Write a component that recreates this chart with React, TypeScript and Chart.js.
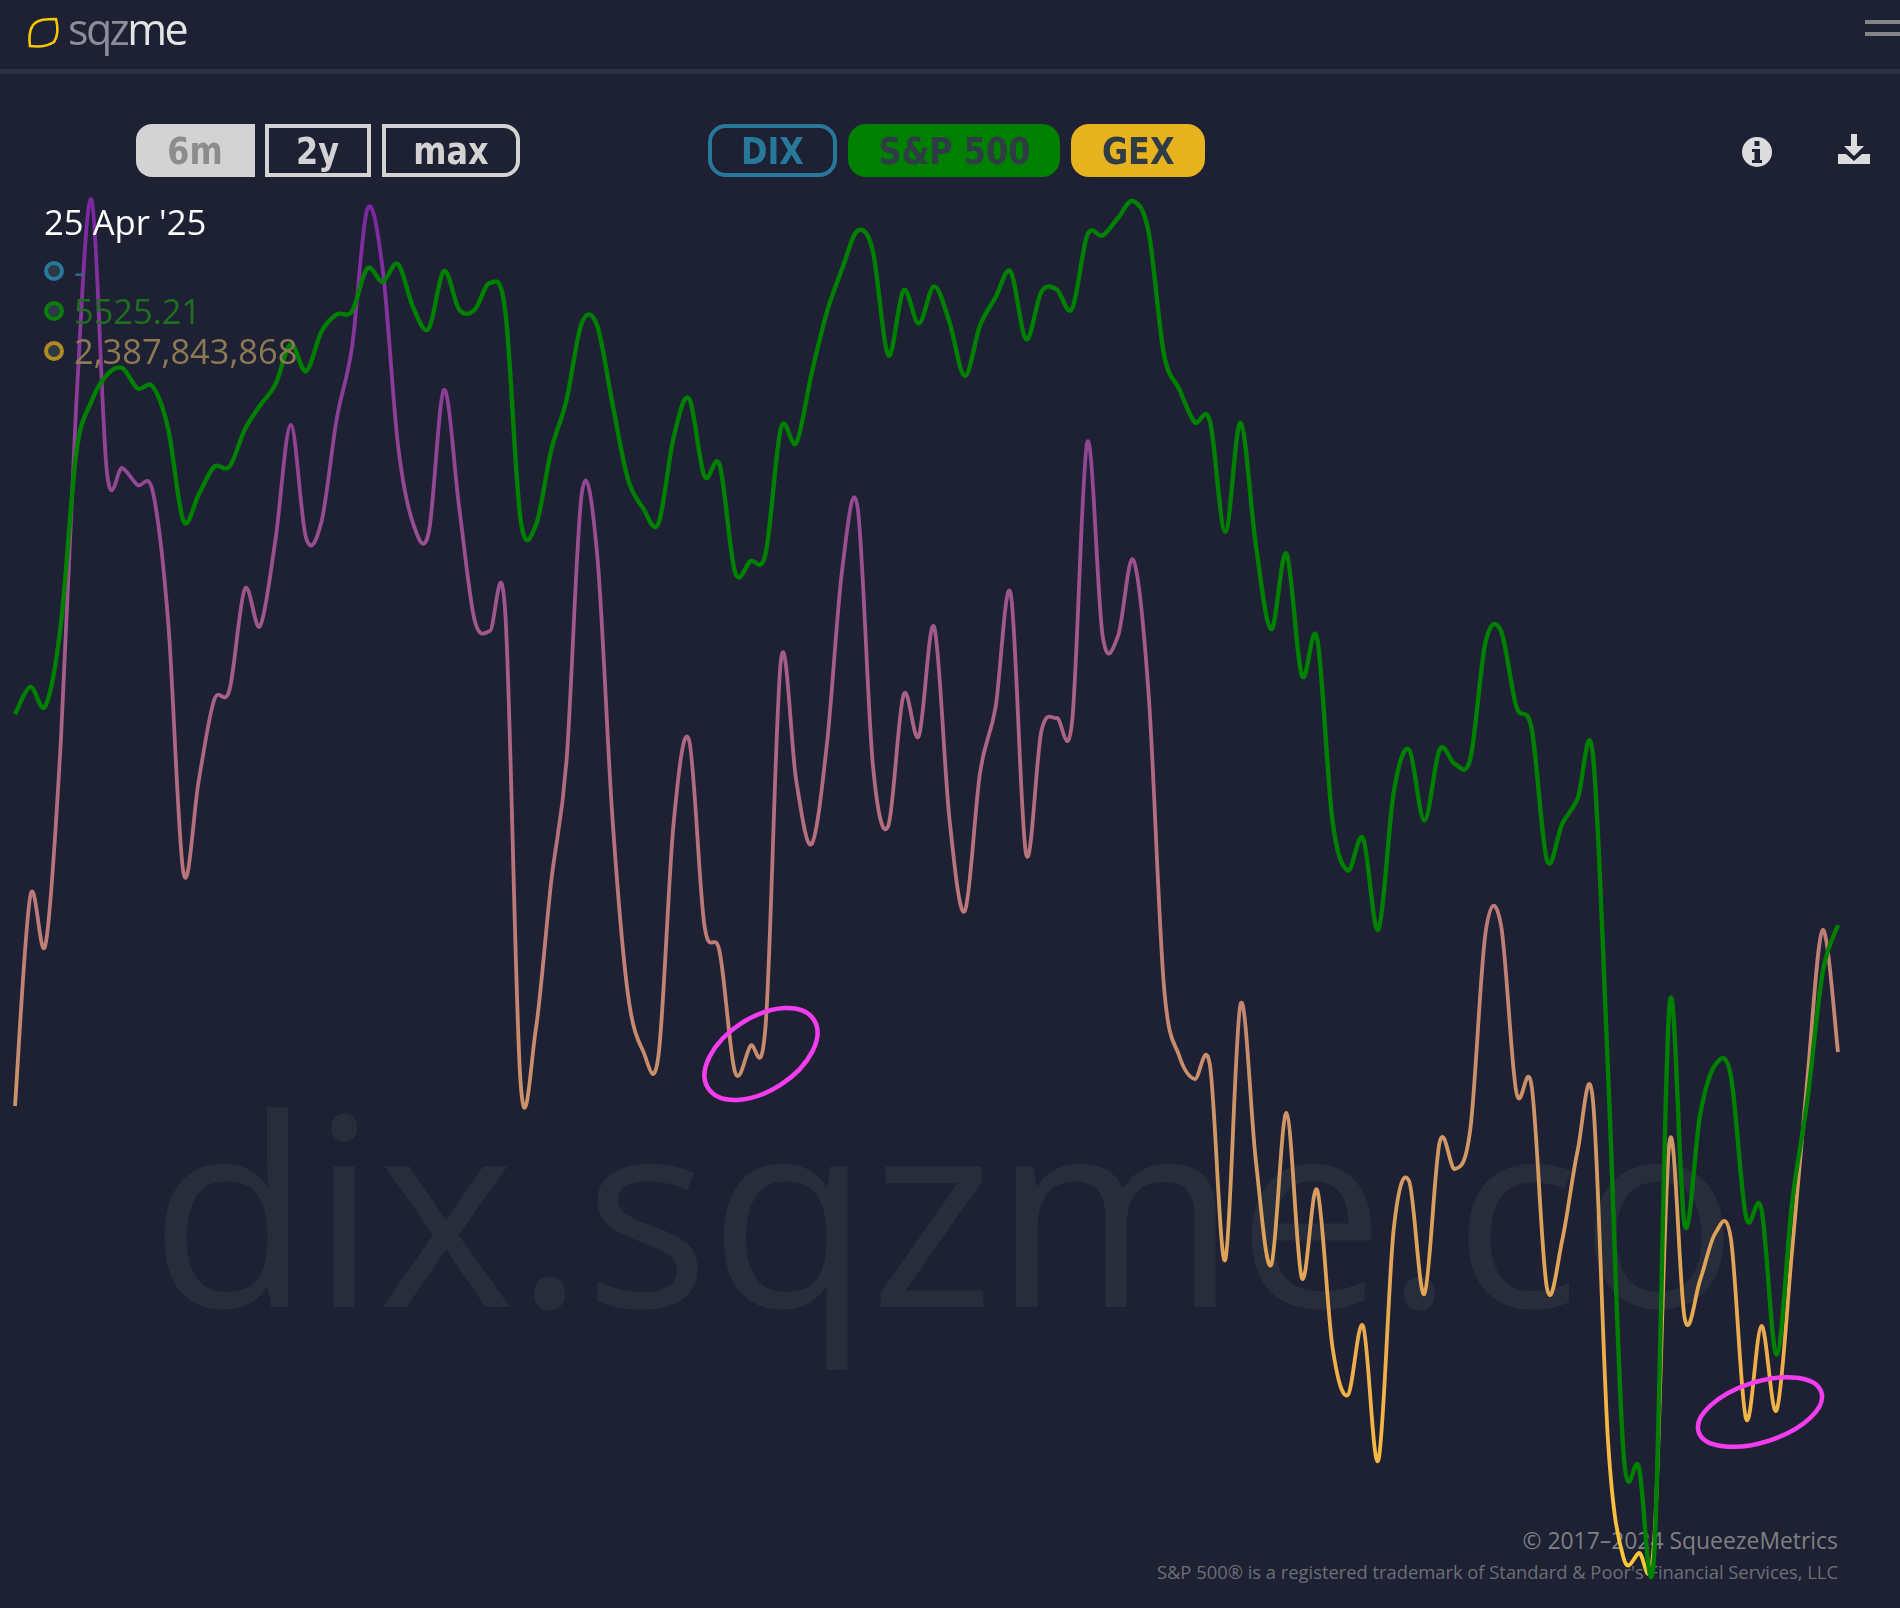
import React, { useEffect, useRef } from "react";
import { Chart, registerables } from "chart.js";

Chart.register(...registerables);

const tradingDays: string[] = [
  "2024-10-31",
  "11-01","11-04","11-05","11-06","11-07","11-08","11-11","11-12","11-13","11-14","11-15","11-18","11-19","11-20","11-21","11-22","11-25","11-26","11-27","11-29",
  "12-02","12-03","12-04","12-05","12-06","12-09","12-10","12-11","12-12","12-13","12-16","12-17","12-18","12-19","12-20","12-23","12-24","12-26","12-27","12-30","12-31",
  "2025-01-02","01-03","01-06","01-07","01-08","01-10","01-13","01-14","01-15","01-16","01-17","01-21","01-22","01-23","01-24","01-27","01-28","01-29","01-30","01-31",
  "02-03","02-04","02-05","02-06","02-07","02-10","02-11","02-12","02-13","02-14","02-18","02-19","02-20","02-21","02-24","02-25","02-26","02-27","02-28",
  "03-03","03-04","03-05","03-06","03-07","03-10","03-11","03-12","03-13","03-14","03-17","03-18","03-19","03-20","03-21","03-24","03-25","03-26","03-27","03-28","03-31",
  "04-01","04-02","04-03","04-04","04-07","04-08","04-09","04-10","04-11","04-14","04-15","04-16","04-17","04-21","04-22","04-23","04-24","04-25",
];

const sp500: number[] = [
  5705.45, 5728.8, 5712.69, 5782.76, 5929.04, 5973.1, 5995.54, 6001.35, 5983.99, 5985.38, 5949.17, 5870.62, 5893.62, 5916.98, 5917.11, 5948.71, 5969.34, 5987.37, 6021.63, 5998.74, 6032.38,
  6047.15, 6049.88, 6086.49, 6075.11, 6090.27, 6052.85, 6034.91, 6084.19, 6051.25, 6051.09, 6074.08, 6050.61, 5872.16, 5867.08, 5930.85, 5974.07, 6040.04, 6037.59, 5970.84, 5906.94, 5881.63,
  5868.55, 5942.47, 5975.38, 5909.03, 5918.25, 5827.04, 5836.22, 5842.91, 5949.91, 5937.34, 5996.66, 6049.24, 6086.37, 6118.71, 6101.24, 6012.28, 6067.7, 6039.31, 6071.17, 6040.53,
  5994.57, 6037.88, 6061.48, 6083.57, 6025.99, 6066.44, 6068.5, 6051.97, 6115.07, 6114.63, 6129.58, 6144.15, 6117.52, 6013.13, 5983.25, 5955.25, 5956.06, 5861.57, 5954.5,
  5849.72, 5778.15, 5842.63, 5738.52, 5770.2, 5614.56, 5572.07, 5599.3, 5521.52, 5638.94, 5675.12, 5614.66, 5675.29, 5662.89, 5667.56, 5767.57, 5776.65, 5712.2, 5693.31, 5580.94, 5611.85,
  5633.07, 5670.97, 5396.52, 5074.08, 5062.25, 4987, 5456.9, 5268.05, 5363.36, 5405.97, 5396.63, 5275.7, 5282.7, 5158.2, 5287.76, 5375.86, 5484.77, 5525.21,
];

// dealer gamma exposure, $ millions
const gex: number[] = [
  1794, 4104, 3576, 5831, 9516, 11760, 8768, 8812, 8625, 8548, 7118, 4357, 5380, 6260, 6370, 7481, 7074, 8020, 9285, 8042, 8218,
  9351, 10143, 11661, 11001, 9065, 8196, 8097, 9670, 8372, 7140, 7019, 7228, 2058, 2641, 4258, 5589, 8537, 7866, 4962, 3037, 2399,
  2344, 4918, 5820, 3785, 3488, 2168, 2454, 2685, 6700, 5369, 4676, 5776, 7701, 8383, 5545, 4874, 6315, 5864, 7063, 4951,
  3939, 5468, 6172, 7426, 4566, 5919, 6062, 6018, 9098, 6964, 6964, 7800, 6326, 3114, 2344, 2091, 2245, 100, 2916,
  1189, 45, 1717, -98, 870, -857, -1385, -626, -2100, 441, 969, -274, 1398, 1101, 1541, 3708, 3785, 1948, 2014, -208, 320,
  1299, 1860, -1924, -3178, -3123, -2990, 1398, -549, -120, 397, 342, -1649, -626, -1550, 199, 2091, 3730, 2388,
];

const rangeButtons: string[] = ["6m", "2y", "max"];
const seriesButtons: string[] = ["DIX", "S&P 500", "GEX"];
const readoutDate = "25 Apr '25";
const readoutValues: string[] = ["-", "5525.21", "2,387,843,868"];

const BG = "#1e2133";
const OPEN = '"Open Sans", sans-serif';

// Uniform cardinal spline (the line element draws it; only its control points change)
const cardinalSpline = {
  id: "cardinalSpline",
  beforeDatasetDraw(chart: any, args: any) {
    const meta = args.meta;
    const pts = meta.data;
    meta.dataset.updateControlPoints(chart.chartArea, "x");
    const k = 1 / 6;
    for (let i = 0; i < pts.length; i++) {
      const p = pts[i];
      const a = pts[i - 1] || p;
      const b = pts[i + 1] || p;
      p.cp1x = p.x - (b.x - a.x) * k;
      p.cp1y = p.y - (b.y - a.y) * k;
      p.cp2x = p.x + (b.x - a.x) * k;
      p.cp2y = p.y + (b.y - a.y) * k;
    }
  },
};

function ChartCanvas() {
  const ref = useRef<HTMLCanvasElement | null>(null);
  useEffect(() => {
    const canvas = ref.current!;
    const c = canvas.getContext("2d")!;
    const g = c.createLinearGradient(0, 190, 0, 1590);
    g.addColorStop(0, "#7a26a3");
    g.addColorStop(0.25, "#974f90");
    g.addColorStop(0.5, "#ba767a");
    g.addColorStop(0.68, "#cf9866");
    g.addColorStop(0.85, "#f0b048");
    g.addColorStop(1, "#ffc934");
    const chart = new Chart(canvas, {
      type: "line",
      data: {
        labels: tradingDays,
        datasets: [
          { label: "S&P 500", data: sp500, yAxisID: "ySpx", borderColor: "#008000", borderWidth: 4.4, order: 1 },
          { label: "GEX", data: gex, yAxisID: "yGex", borderColor: g, borderWidth: 3.8, order: 2 },
        ],
      },
      options: {
        animation: false,
        responsive: false,
        devicePixelRatio: 1,
        layout: { padding: { left: 15, right: 62, top: 0, bottom: 0 } },
        elements: { point: { radius: 0 }, line: { tension: 0.4, capBezierPoints: false } },
        plugins: { legend: { display: false }, tooltip: { enabled: false } },
        events: [],
        scales: {
          x: { display: false },
          ySpx: { display: false, min: 4941.6, max: 6315.9 },
          yGex: { display: false, min: -3728, max: 13960 },
        },
      } as any,
      plugins: [cardinalSpline],
    });
    return () => chart.destroy();
  }, []);
  return <canvas ref={ref} width={1900} height={1608} style={{ position: "absolute", left: 0, top: 0, display: "block" }} />;
}

const abs = (o: React.CSSProperties): React.CSSProperties => ({ position: "absolute", ...o });

const btnBase: React.CSSProperties = {
  position: "absolute",
  top: 124,
  height: 53,
  boxSizing: "border-box",
  display: "flex",
  alignItems: "center",
  justifyContent: "center",
  fontFamily: '"DejaVu Sans", sans-serif',
  fontWeight: 700,
  fontSize: 38,
  whiteSpace: "nowrap",
};

const Squeezed = ({ children }: { children: React.ReactNode }) => (
  <span style={{ display: "inline-block", transform: "scaleX(0.84)" }}>{children}</span>
);

export default function App() {
  return (
    <div style={{ position: "relative", width: 1900, height: 1608, background: BG, overflow: "hidden" }}>
      <style>{`html,body{margin:0;padding:0;background:${BG}}`}</style>

      {/* watermark */}
      <div style={abs({ left: 150, top: 1022, fontFamily: OPEN, fontWeight: 400, fontSize: 263, lineHeight: "366px", color: "#282d3b", whiteSpace: "nowrap" })}>dix.sqzme.co</div>

      {/* footer */}
      <div style={abs({ right: 62, top: 1524, fontFamily: OPEN, fontSize: 22.9, lineHeight: "33px", color: "#7f8083", whiteSpace: "nowrap" })}>© 2017–2024 SqueezeMetrics</div>
      <div style={abs({ right: 62, top: 1559, fontFamily: OPEN, fontSize: 18.35, lineHeight: "26px", color: "#6d6f75", whiteSpace: "nowrap" })}>S&amp;P 500® is a registered trademark of Standard &amp; Poor's Financial Services, LLC</div>

      <ChartCanvas />

      {/* hand-drawn rings */}
      <svg width={1900} height={1608} style={abs({ left: 0, top: 0 })}>
        <ellipse cx={761} cy={1054} rx={63} ry={36.5} transform="rotate(-33 761 1054)" fill="none" stroke="#f53df0" strokeWidth={4.5} />
        <ellipse cx={1760} cy={1412} rx={64.5} ry={30} transform="rotate(-18 1760 1412)" fill="none" stroke="#f53df0" strokeWidth={4.5} />
        {/* logo */}
        <path d="M33 25 C38 19 48 19 56 19 C58 27 58 36 54 42 C48 46 38 47 30 46 C29 39 29 31 33 25 Z" fill="none" stroke="#f5c800" strokeWidth={2.6} />
        {/* info */}
        <circle cx={1757} cy={152} r={15} fill="#dcdcdc" />
        <rect x={1754.5} y={141} width={5} height={5} fill={BG} />
        <path d="M1752 149 H1760 V160 H1762 V163 H1752 V160 H1754.5 V152 H1752 Z" fill={BG} />
        {/* download */}
        <path d="M1851 134 H1857 V146 H1864 L1854 156 L1844 146 H1851 Z" fill="#dcdcdc" />
        <path d="M1838 154 H1846 L1854 161 L1862 154 H1870 V164 H1838 Z" fill="#dcdcdc" />
      </svg>

      {/* header */}
      <div style={abs({ left: 68, top: 2, fontFamily: OPEN, fontWeight: 500, fontSize: 43, lineHeight: "53px", letterSpacing: -2.6, whiteSpace: "nowrap" })}>
        <span style={{ color: "#8c8f99" }}>sqz</span>
        <span style={{ color: "#e4e4e4" }}>me</span>
      </div>
      <div style={abs({ left: 0, top: 69, width: 1900, height: 5, background: "#2a3142" })} />
      <div style={abs({ left: 1865, top: 20, width: 35, height: 4, background: "#858585" })} />
      <div style={abs({ left: 1865, top: 32, width: 35, height: 4, background: "#858585" })} />

      {/* range buttons */}
      <div style={{ ...btnBase, left: 136, width: 119, background: "#d3d3d3", color: "#8c8c8c", borderRadius: "16px 0 0 16px" }}><Squeezed>{rangeButtons[0]}</Squeezed></div>
      <div style={{ ...btnBase, left: 265, width: 106, border: "4px solid #d3d3d3", color: "#d3d3d3" }}><Squeezed>{rangeButtons[1]}</Squeezed></div>
      <div style={{ ...btnBase, left: 382, width: 138, border: "4px solid #d3d3d3", color: "#d3d3d3", borderRadius: "0 16px 16px 0" }}><Squeezed>{rangeButtons[2]}</Squeezed></div>

      {/* series buttons */}
      <div style={{ ...btnBase, left: 708, width: 129, border: "4px solid #27789a", color: "#27789a", borderRadius: 18 }}><Squeezed>{seriesButtons[0]}</Squeezed></div>
      <div style={{ ...btnBase, left: 848, width: 212, background: "#008000", color: "#2f3b45", borderRadius: 18 }}><Squeezed>{seriesButtons[1]}</Squeezed></div>
      <div style={{ ...btnBase, left: 1071, width: 134, background: "#e6b31e", color: "#2f3b45", borderRadius: 18 }}><Squeezed>{seriesButtons[2]}</Squeezed></div>

      {/* readout */}
      <div style={abs({ left: 44, top: 199, fontFamily: OPEN, fontSize: 34.7, lineHeight: "46px", color: "#ffffff", whiteSpace: "nowrap" })}>{readoutDate}</div>
      {[
        { y: 271, ring: "#27789a", text: "#2f6a84" },
        { y: 311, ring: "#0a7d0a", text: "#1e6f1e" },
        { y: 351, ring: "#b28a22", text: "#8b7a55" },
      ].map((r, i) => (
        <React.Fragment key={i}>
          <div style={abs({ left: 44, top: r.y - 10, width: 20, height: 20, boxSizing: "border-box", borderRadius: "50%", border: `4px solid ${r.ring}`, background: "#2d3a44" })} />
          <div style={abs({ left: 74, top: r.y - 23, fontFamily: OPEN, fontSize: 34.4, lineHeight: "46px", color: r.text, whiteSpace: "nowrap" })}>{readoutValues[i]}</div>
        </React.Fragment>
      ))}
    </div>
  );
}
